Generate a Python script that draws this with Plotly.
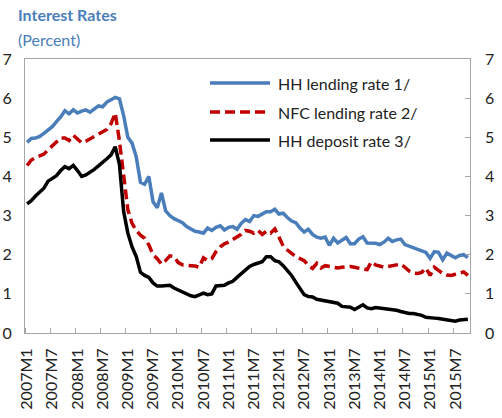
import plotly.graph_objects as go

# ---- data (monthly, 2007M1 .. 2015M10) ----
hh_lending = [
    4.87, 4.97, 4.98, 5.02, 5.10, 5.18, 5.27, 5.40, 5.52, 5.68, 5.60, 5.70,
    5.62, 5.67, 5.70, 5.64, 5.72, 5.80, 5.78, 5.90, 5.96, 6.02, 5.98, 5.55,
    5.00, 4.85, 4.50, 3.85, 3.80, 4.00, 3.35, 3.20, 3.58, 3.12, 3.00, 2.92,
    2.87, 2.82, 2.72, 2.65, 2.60, 2.58, 2.55, 2.68, 2.62, 2.70, 2.74, 2.63,
    2.70, 2.72, 2.65, 2.80, 2.90, 2.85, 3.00, 2.98, 3.05, 3.10, 3.10, 3.16,
    3.04, 3.06, 2.95, 2.86, 2.82, 2.68, 2.58, 2.65, 2.52, 2.45, 2.42, 2.45,
    2.24, 2.42, 2.30, 2.38, 2.44, 2.28, 2.28, 2.40, 2.46, 2.30, 2.30, 2.29,
    2.26, 2.32, 2.42, 2.34, 2.38, 2.40, 2.26, 2.22, 2.18, 2.12, 2.08, 2.06,
    1.91, 2.08, 2.06, 1.87, 2.04, 1.97, 1.92, 1.98, 2.00, 1.93,
]
nfc_lending = [
    4.28, 4.42, 4.48, 4.52, 4.57, 4.68, 4.78, 4.90, 4.98, 4.98, 4.92, 5.05,
    4.95, 4.86, 4.90, 4.95, 5.02, 5.08, 5.15, 5.20, 5.35, 5.62, 4.90, 4.05,
    3.15, 2.80, 2.62, 2.50, 2.42, 2.25, 2.00, 1.90, 1.76, 1.85, 1.97, 1.95,
    1.80, 1.74, 1.72, 1.72, 1.71, 1.68, 1.92, 1.85, 1.90, 2.08, 2.20, 2.28,
    2.32, 2.38, 2.45, 2.52, 2.62, 2.60, 2.55, 2.62, 2.52, 2.60, 2.55, 2.66,
    2.45, 2.22, 2.12, 2.02, 1.95, 1.90, 1.85, 1.72, 1.65, 1.78, 1.66, 1.72,
    1.70, 1.67, 1.66, 1.68, 1.69, 1.70, 1.68, 1.65, 1.63, 1.62, 1.82, 1.74,
    1.72, 1.68, 1.70, 1.72, 1.75, 1.76, 1.68, 1.58, 1.53, 1.52, 1.55, 1.66,
    1.47, 1.68, 1.60, 1.52, 1.48, 1.47, 1.50, 1.53, 1.56, 1.47,
]
hh_deposit = [
    3.30, 3.38, 3.50, 3.60, 3.70, 3.88, 3.95, 4.02, 4.15, 4.25, 4.20, 4.28,
    4.15, 4.00, 4.04, 4.10, 4.18, 4.27, 4.35, 4.45, 4.55, 4.76, 4.30, 3.10,
    2.55, 2.20, 1.95, 1.55, 1.47, 1.42, 1.28, 1.20, 1.20, 1.20, 1.22, 1.15,
    1.10, 1.05, 1.00, 0.95, 0.93, 0.97, 1.02, 0.98, 1.00, 1.20, 1.20, 1.22,
    1.28, 1.32, 1.42, 1.52, 1.62, 1.70, 1.75, 1.78, 1.82, 1.95, 1.95, 1.85,
    1.82, 1.72, 1.60, 1.47, 1.30, 1.12, 0.98, 0.93, 0.92, 0.86, 0.84, 0.84,
    0.82, 0.80, 0.76, 0.68, 0.66, 0.66, 0.60, 0.65, 0.72, 0.64, 0.62, 0.65,
    0.64, 0.62, 0.62, 0.60, 0.58, 0.55, 0.52, 0.50, 0.50, 0.48, 0.45, 0.40,
    0.38, 0.38, 0.37, 0.35, 0.33, 0.33, 0.30, 0.33, 0.35, 0.35,
]
tick_labels = [
    "2007M1", "2007M7", "2008M1", "2008M7", "2009M1", "2009M7", "2010M1",
    "2010M7", "2011M1", "2011M7", "2012M1", "2012M7", "2013M1", "2013M7",
    "2014M1", "2014M7", "2015M1", "2015M7",
]
series_names = ["HH lending rate 1/", "NFC lending rate 2/", "HH deposit rate 3/"]

BLUE = "#4A7EBB"
RED = "#C00000"
BLACK = "#000000"
GRID = "#A6A6A6"
TXT = "#222222"
FONT = "Lato"

n = len(hh_lending)
x = list(range(n))
tick_pos = [6 * k for k in range(len(tick_labels))]
minor_pos = [6 * k - 0.5 for k in range(len(tick_labels))]

fig = go.Figure()
fig.add_trace(go.Scatter(x=x, y=hh_lending, mode="lines", name=series_names[0],
                         line=dict(color=BLUE, width=3.5), showlegend=False))
fig.add_trace(go.Scatter(x=x, y=nfc_lending, mode="lines", name=series_names[1],
                         line=dict(color=RED, width=3.5, dash="10px,5px"), showlegend=False))
fig.add_trace(go.Scatter(x=x, y=hh_deposit, mode="lines", name=series_names[2],
                         line=dict(color=BLACK, width=3.5), showlegend=False, yaxis="y2"))

W, H = 502, 418
L, R, T, B = 25, 32, 59, 85
pw, ph = W - L - R, H - T - B


def px_x(px):
    return (px - L) / pw


def px_y(py):
    return (H - B - py) / ph


fig.update_layout(
    width=W, height=H,
    margin=dict(l=L, r=R, t=T, b=B, autoexpand=False),
    paper_bgcolor="white", plot_bgcolor="white",
    font=dict(family=FONT, size=16, color=TXT),
    xaxis=dict(
        range=[-0.5, n - 0.5], tickmode="array", tickvals=tick_pos, ticktext=tick_labels,
        tickangle=-90, ticks="", showgrid=False, zeroline=False, automargin=False,
        showline=True, linecolor=GRID, linewidth=1, mirror=True,
        tickfont=dict(family=FONT, size=16, color=TXT),
        ticklabelstandoff=8,
        minor=dict(tickmode="array", tickvals=minor_pos, ticks="inside", ticklen=5,
                   tickcolor=GRID, tickwidth=1, showgrid=False),
    ),
    yaxis=dict(
        range=[0, 7], dtick=1, ticks="", showgrid=False, zeroline=False, automargin=False,
        showline=True, linecolor=GRID, linewidth=1, mirror=True,
        tickfont=dict(family=FONT, size=16, color=TXT),
        ticklabelstandoff=9,
    ),
    yaxis2=dict(
        range=[0, 7], dtick=1, overlaying="y", side="right", ticks="inside",
        ticklen=5, tickcolor=GRID, showgrid=False, zeroline=False, showline=False,
        automargin=False,
        tickfont=dict(family=FONT, size=16, color=TXT),
        ticklabelstandoff=14,
    ),
)

# title and subtitle
fig.add_annotation(text="<b>Interest Rates</b>", xref="paper", yref="paper",
                   x=px_x(16), y=px_y(15), xanchor="left", yanchor="middle",
                   showarrow=False, font=dict(family=FONT, size=16, color=BLUE))
fig.add_annotation(text="(Percent)", xref="paper", yref="paper",
                   x=px_x(16), y=px_y(39), xanchor="left", yanchor="middle",
                   showarrow=False, font=dict(family=FONT, size=16, color=BLUE))

# legend (drawn manually to match long line samples)
leg_styles = [dict(color=BLUE, width=3.5), dict(color=RED, width=3.5, dash="10px,5px"),
              dict(color=BLACK, width=3.5)]
leg_y = [83, 112, 140]
for name, st, yy in zip(series_names, leg_styles, leg_y):
    fig.add_shape(type="line", xref="paper", yref="paper",
                  x0=px_x(210), x1=px_x(270), y0=px_y(yy), y1=px_y(yy), line=st)
    fig.add_annotation(text=name, xref="paper", yref="paper", x=px_x(276), y=px_y(yy),
                       xanchor="left", yanchor="middle", showarrow=False,
                       font=dict(family=FONT, size=16, color=TXT))

fig.write_html(
    "out.html",
    config={"displayModeBar": False},
    post_script="document.body.style.margin='0px';document.body.style.overflow='hidden';",
)
